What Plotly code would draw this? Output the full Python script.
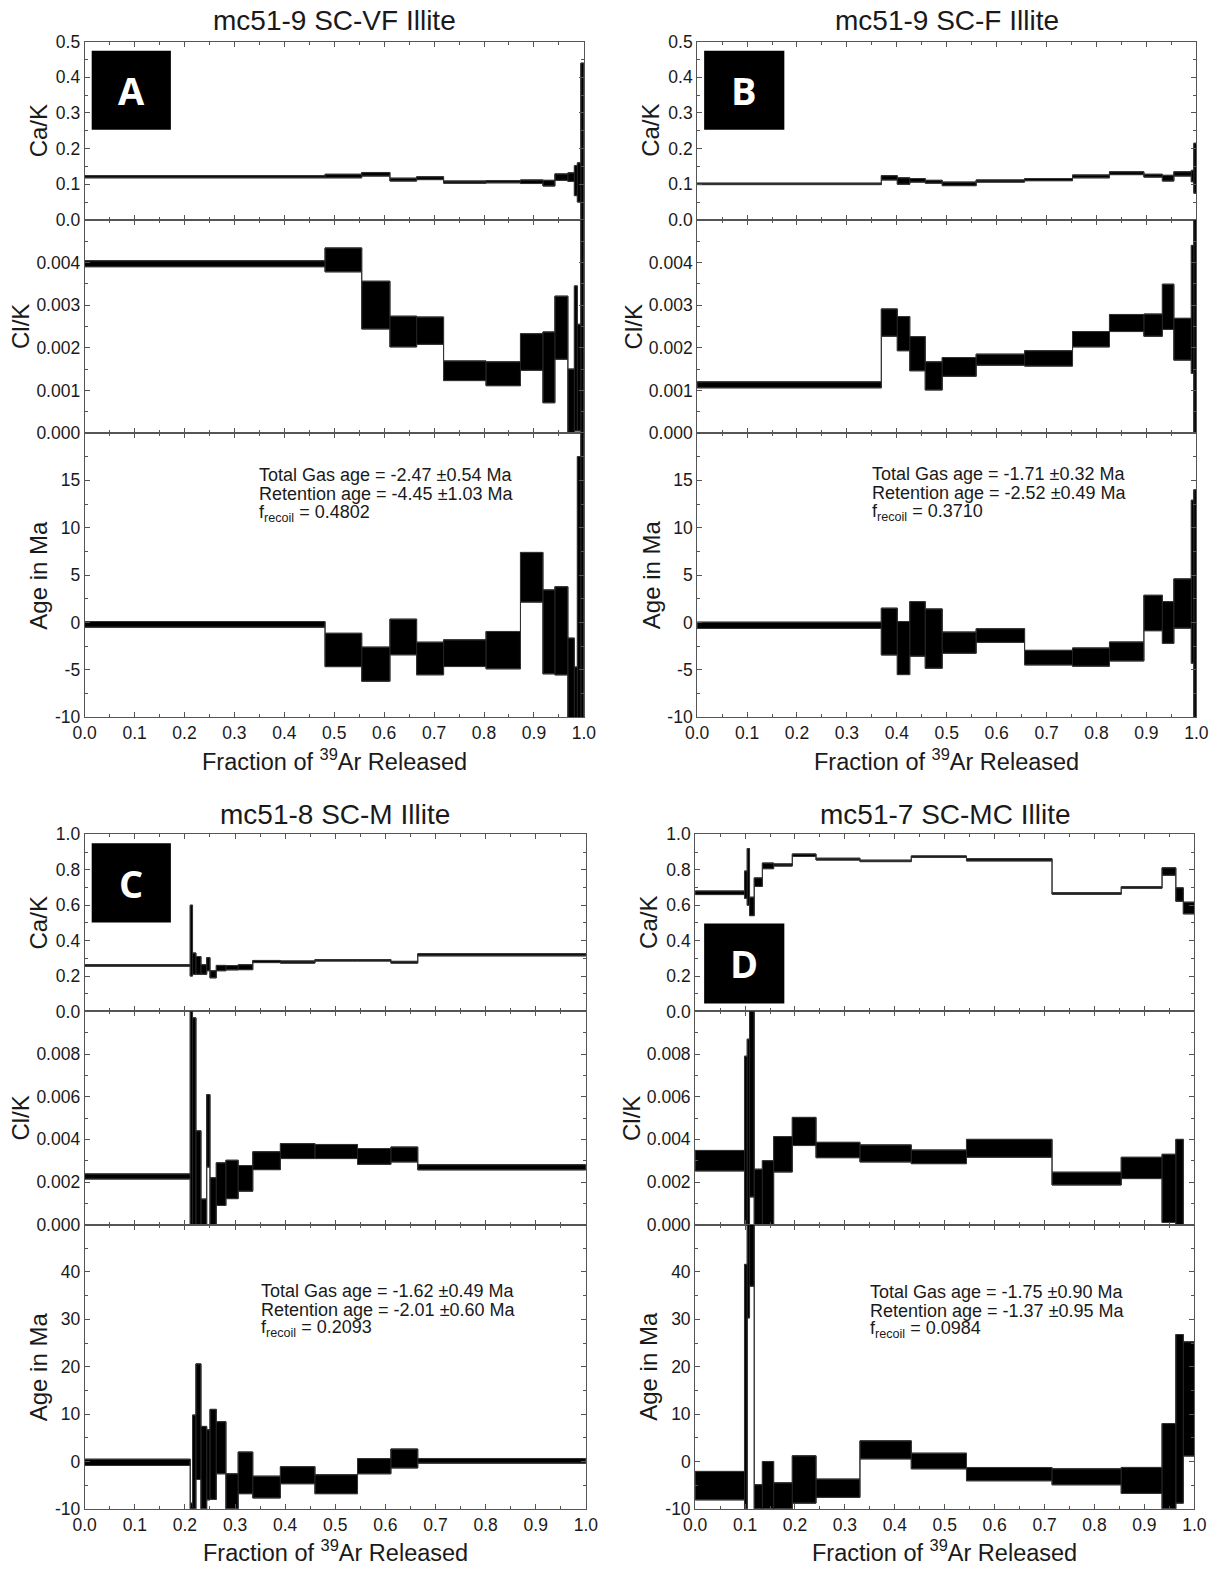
import plotly.graph_objects as go

# ---------------- DATA ----------------
A_frac = [0, 0.4815, 0.555, 0.6115, 0.665, 0.719, 0.804, 0.873, 0.918, 0.942, 0.968, 0.981, 0.987, 0.994, 1.0]
A_cak = [0.121, 0.123, 0.128, 0.113, 0.117, 0.106, 0.107, 0.107, 0.103, 0.120, 0.120, 0.110, 0.105, 0.200]
A_cak_err = [0.003, 0.005, 0.005, 0.004, 0.004, 0.003, 0.003, 0.005, 0.008, 0.009, 0.012, 0.042, 0.055, 0.240]
A_clk = [0.00397, 0.00406, 0.0030, 0.00238, 0.0024, 0.00146, 0.00139, 0.0019, 0.00154, 0.00247, 0.0007, 0.00175, 0.0013, 0.003]
A_clk_err = [0.00007, 0.00028, 0.00056, 0.00036, 0.00032, 0.00023, 0.00028, 0.00043, 0.00083, 0.00074, 0.0008, 0.0017, 0.00125, 0.01]
A_age = [-0.2, -2.9, -4.4, -1.53, -3.8, -3.24, -2.92, 4.77, -0.99, -0.88, -7.5, -10.0, 3.5, 5.0]
A_age_err = [0.3, 1.76, 1.8, 1.88, 1.72, 1.41, 1.97, 2.62, 4.43, 4.65, 5.85, 5.3, 14.0, 40.0]
A_stats = ["Total Gas age = -2.47 \u00b10.54 Ma", "Retention age = -4.45 \u00b11.03 Ma", "f<sub>recoil</sub> = 0.4802"]

B_frac = [0, 0.369, 0.401, 0.426, 0.457, 0.491, 0.559, 0.656, 0.752, 0.826, 0.895, 0.932, 0.955, 0.990, 0.995, 1.0]
B_cak = [0.101, 0.118, 0.109, 0.111, 0.107, 0.101, 0.109, 0.113, 0.122, 0.131, 0.124, 0.117, 0.129, 0.123, 0.145]
B_cak_err = [0.002, 0.006, 0.009, 0.005, 0.004, 0.005, 0.003, 0.003, 0.004, 0.004, 0.004, 0.008, 0.006, 0.016, 0.07]
B_clk = [0.00113, 0.00259, 0.00233, 0.00186, 0.00134, 0.00155, 0.00172, 0.00175, 0.0022, 0.00258, 0.00253, 0.00296, 0.0022, 0.0029, 0.0025]
B_clk_err = [0.00007, 0.00032, 0.0004, 0.0004, 0.00033, 0.00022, 0.00013, 0.00018, 0.00018, 0.0002, 0.00026, 0.00053, 0.00049, 0.0015, 0.005]
B_age = [-0.3, -0.96, -2.7, -0.68, -1.7, -2.13, -1.38, -3.71, -3.65, -3.06, 1.0, 0.0, 2.0, 4.3, 2.0]
B_age_err = [0.33, 2.47, 2.8, 2.88, 3.13, 1.12, 0.72, 0.77, 0.96, 1.0, 1.87, 2.2, 2.6, 8.6, 12.0]
B_stats = ["Total Gas age = -1.71 \u00b10.32 Ma", "Retention age = -2.52 \u00b10.49 Ma", "f<sub>recoil</sub> = 0.3710"]

C_frac = [0, 0.2106, 0.2152, 0.222, 0.232, 0.2435, 0.25, 0.2626, 0.2818, 0.3063, 0.3354, 0.3905, 0.4594, 0.5444, 0.611, 0.6646, 1.0]
C_cak = [0.26, 0.40, 0.27, 0.26, 0.237, 0.267, 0.21, 0.245, 0.247, 0.25, 0.282, 0.279, 0.289, 0.289, 0.278, 0.32]
C_cak_err = [0.004, 0.2, 0.06, 0.05, 0.027, 0.037, 0.02, 0.015, 0.012, 0.014, 0.006, 0.006, 0.004, 0.004, 0.005, 0.006]
C_clk = [0.00226, 0.005, 0.0048, 0.0022, 0.0005, 0.0044, 0.001, 0.0019, 0.00212, 0.00217, 0.003, 0.00345, 0.00343, 0.0032, 0.00329, 0.00269]
C_clk_err = [0.00012, 0.0051, 0.0049, 0.0022, 0.0007, 0.0017, 0.0012, 0.001, 0.0009, 0.0006, 0.00042, 0.00035, 0.00033, 0.00037, 0.00035, 0.00012]
C_age = [-0.18, -14.0, -2.0, 8.4, -3.0, -0.7, 1.5, 2.9, -8.0, -2.4, -5.4, -2.9, -4.8, -1.0, 0.63, 0.14]
C_age_err = [0.66, 5.2, 11.8, 12.2, 10.4, 7.4, 9.5, 5.5, 5.4, 4.4, 2.3, 1.8, 2.0, 1.6, 2.0, 0.49]
C_stats = ["Total Gas age = -1.62 \u00b10.49 Ma", "Retention age = -2.01 \u00b10.60 Ma", "f<sub>recoil</sub> = 0.2093"]

D_frac = [0, 0.0989, 0.1044, 0.1090, 0.1184, 0.1347, 0.1573, 0.1947, 0.2422, 0.3302, 0.4330, 0.5436, 0.7150, 0.8536, 0.9354, 0.963, 0.978, 1.0]
D_cak = [0.67, 0.716, 0.76, 0.593, 0.73, 0.822, 0.827, 0.882, 0.86, 0.85, 0.874, 0.856, 0.666, 0.70, 0.79, 0.66, 0.584]
D_cak_err = [0.01, 0.077, 0.16, 0.052, 0.024, 0.016, 0.006, 0.007, 0.005, 0.004, 0.004, 0.006, 0.004, 0.004, 0.021, 0.038, 0.033]
D_clk = [0.003, 0.0035, 0.004, 0.0057, 0.0012, 0.0015, 0.0033, 0.00437, 0.0035, 0.00334, 0.00318, 0.00358, 0.00216, 0.00266, 0.0017, 0.002, -0.003]
D_clk_err = [0.00048, 0.0044, 0.0047, 0.0044, 0.0014, 0.0015, 0.00083, 0.00066, 0.00036, 0.0004, 0.00032, 0.00042, 0.0003, 0.0005, 0.0016, 0.002, 0.001]
D_age = [-5.1, 13.0, 42.6, 50.0, -10.0, -6.0, -8.0, -3.8, -5.65, 2.45, 0.1, -2.67, -3.23, -4.0, -3.0, 9.0, 13.2]
D_age_err = [3.0, 28.6, 12.3, 13.0, 5.1, 6.0, 3.5, 5.0, 1.93, 1.9, 1.65, 1.4, 1.69, 2.74, 11.0, 17.8, 12.05]
D_stats = ["Total Gas age = -1.75 \u00b10.90 Ma", "Retention age = -1.37 \u00b10.95 Ma", "f<sub>recoil</sub> = 0.0984"]

titles = ["mc51-9 SC-VF Illite", "mc51-9 SC-F Illite", "mc51-8 SC-M Illite", "mc51-7 SC-MC Illite"]
letters = ["A", "B", "C", "D"]
y_titles = ["Ca/K", "Cl/K", "Age in Ma"]
x_title = "Fraction of <sup>39</sup>Ar Released"
x_ticks = [0.0, 0.1, 0.2, 0.3, 0.4, 0.5, 0.6, 0.7, 0.8, 0.9, 1.0]
age_ticks_top = [-10, -5, 0, 5, 10, 15]
age_ticks_bottom = [-10, 0, 10, 20, 30, 40]

# ---------------- LAYOUT GEOMETRY (target page pixels) ----------------
W, H = 1220, 1570
# measured photo transform: shown = A0 + S * figure_px  -> invert it
AX0, SX = 12.5, 0.978
AY0, SY = 9.3, 0.9865
FONT = "Liberation Sans, Arial, sans-serif"
TXT = "#1a1a1a"
AXC = "#555555"

panel_x = [(85, 583), (696, 1194), (85, 585), (694, 1192)]
row_y = [(41, 219, 432, 716), (833, 1010, 1223, 1507)]
panel_row = [0, 0, 1, 1]
title_y = [20, 813]
xtitle_y = [759, 1549]
stats_pos = [(257, 474), (868, 473), (259, 1289), (866, 1290)]
letter_box = [(92, 171, 50, 129), (703, 783, 50, 129), (92, 171, 842, 921), (703, 783, 922, 1002)]

row_axes = [
    [([0, 0.5], 0.1, 0.05, ".1f", None), ([0, 0.004999], 0.001, 0.0005, ".3f", None),
     ([-10, 19.99], 5, 2.5, "d", age_ticks_top)],
    [([0, 1.0], 0.2, 0.1, ".1f", None), ([0, 0.009999], 0.002, 0.001, ".3f", None),
     ([-10, 49.99], 10, 5, "d", age_ticks_bottom)],
]

data = [
    (A_frac, [(A_cak, A_cak_err), (A_clk, A_clk_err), (A_age, A_age_err)], A_stats),
    (B_frac, [(B_cak, B_cak_err), (B_clk, B_clk_err), (B_age, B_age_err)], B_stats),
    (C_frac, [(C_cak, C_cak_err), (C_clk, C_clk_err), (C_age, C_age_err)], C_stats),
    (D_frac, [(D_cak, D_cak_err), (D_clk, D_clk_err), (D_age, D_age_err)], D_stats),
]


def px_x(q):
    return ((q - AX0) / SX) / W


def px_y(q):
    return 1 - ((q - AY0) / SY) / H


def boxes(frac, val, err):
    xs, ys = [], []
    for i in range(len(val)):
        x0, x1 = frac[i], frac[i + 1]
        lo, hi = val[i] - err[i], val[i] + err[i]
        xs += [x0, x1, x1, x0, x0, None]
        ys += [lo, lo, hi, hi, lo, None]
    return xs, ys


fig = go.Figure()
layout = dict(
    width=W, height=H, margin=dict(l=0, r=0, t=0, b=0),
    paper_bgcolor="white", plot_bgcolor="white", showlegend=False,
    font=dict(family=FONT, color=TXT),
)
annotations = []
shapes = []

for p in range(4):
    frac, series, stats = data[p]
    r = panel_row[p]
    xl, xr = panel_x[p]
    ys = row_y[r]
    for s in range(3):
        idx = p * 3 + s + 1
        xa = "x" if idx == 1 else f"x{idx}"
        ya = "y" if idx == 1 else f"y{idx}"
        val, err = series[s]
        bx, by = boxes(frac, val, err)
        fig.add_trace(go.Scatter(
            x=bx, y=by, mode="lines", fill="toself", fillcolor="black",
            line=dict(color="#222222", width=1), xaxis=xa, yaxis=ya,
            hoverinfo="skip"))
        hi = [v + e for v, e in zip(val, err)]
        lo = [v - e for v, e in zip(val, err)]
        for env in (hi, lo):
            fig.add_trace(go.Scatter(
                x=list(frac), y=env + [env[-1]], mode="lines", line_shape="hv",
                line=dict(color="#333333", width=1), xaxis=xa, yaxis=ya,
                hoverinfo="skip"))
        rng, dt, mn, fmt, tv = row_axes[r][s]
        bottom = (s == 2)
        layout[f"xaxis{idx}"] = dict(
            domain=[px_x(xl), px_x(xr)], anchor=ya, range=[0, 1], fixedrange=True,
            tickmode="array", tickvals=x_ticks, ticktext=[f"{v:.1f}" for v in x_ticks],
            showticklabels=bottom, ticks="inside", ticklen=5, tickcolor=AXC,
            minor=dict(ticks="inside", ticklen=3, tickmode="linear", dtick=0.05, tick0=0, tickcolor=AXC),
            showline=True, linecolor=AXC, linewidth=1, mirror="allticks",
            showgrid=False, zeroline=False,
            tickfont=dict(family=FONT, size=17.5, color=TXT),
        )
        yax = dict(
            domain=[px_y(ys[s + 1]), px_y(ys[s])], anchor=xa, range=rng, fixedrange=True,
            ticks="inside", ticklen=5, tickcolor=AXC,
            minor=dict(ticks="inside", ticklen=3, tickmode="linear", dtick=mn, tick0=0, tickcolor=AXC),
            showline=True, linecolor=AXC, linewidth=1, mirror="allticks",
            showgrid=False, zeroline=False,
            tickfont=dict(family=FONT, size=17.5, color=TXT),
        )
        if tv is None:
            yax.update(tick0=0, dtick=dt, tickformat=fmt)
        else:
            yax.update(tickmode="array", tickvals=tv, ticktext=[str(v) for v in tv])
        layout[f"yaxis{idx}"] = yax
        offs = [46, 64, 46][s]
        annotations.append(dict(
            text=y_titles[s], xref="paper", yref="paper",
            x=px_x(xl - offs), y=px_y((ys[s] + ys[s + 1]) / 2),
            xanchor="center", yanchor="middle", textangle=-90, showarrow=False,
            font=dict(family=FONT, size=24, color=TXT)))
    annotations.append(dict(
        text=titles[p], xref="paper", yref="paper",
        x=px_x((xl + xr) / 2), y=px_y(title_y[r]), xanchor="center", yanchor="middle",
        showarrow=False, font=dict(family=FONT, size=28, color=TXT)))
    annotations.append(dict(
        text=x_title, xref="paper", yref="paper",
        x=px_x((xl + xr) / 2), y=px_y(xtitle_y[r]), xanchor="center", yanchor="middle",
        showarrow=False, font=dict(family=FONT, size=23.5, color=TXT)))
    sx, sy = stats_pos[p]
    for k, line in enumerate(stats):
        annotations.append(dict(
            text=line, xref="paper", yref="paper",
            x=px_x(sx), y=px_y(sy + 19 * k), xanchor="left", yanchor="middle",
            showarrow=False, font=dict(family=FONT, size=18, color=TXT)))
    bx0, bx1, by0, by1 = letter_box[p]
    shapes.append(dict(type="rect", xref="paper", yref="paper",
                       x0=px_x(bx0), x1=px_x(bx1), y0=px_y(by1), y1=px_y(by0),
                       fillcolor="black", line=dict(color="black", width=0), layer="above"))
    annotations.append(dict(
        text="<b>" + letters[p] + "</b>", xref="paper", yref="paper",
        x=px_x((bx0 + bx1) / 2), y=px_y((by0 + by1) / 2), xanchor="center", yanchor="middle",
        showarrow=False, font=dict(family="Open Sans, Liberation Sans, sans-serif", size=38, color="white")))

layout["annotations"] = annotations
layout["shapes"] = shapes
fig.update_layout(**layout)
fig.write_html("out.html", config={"staticPlot": True})
